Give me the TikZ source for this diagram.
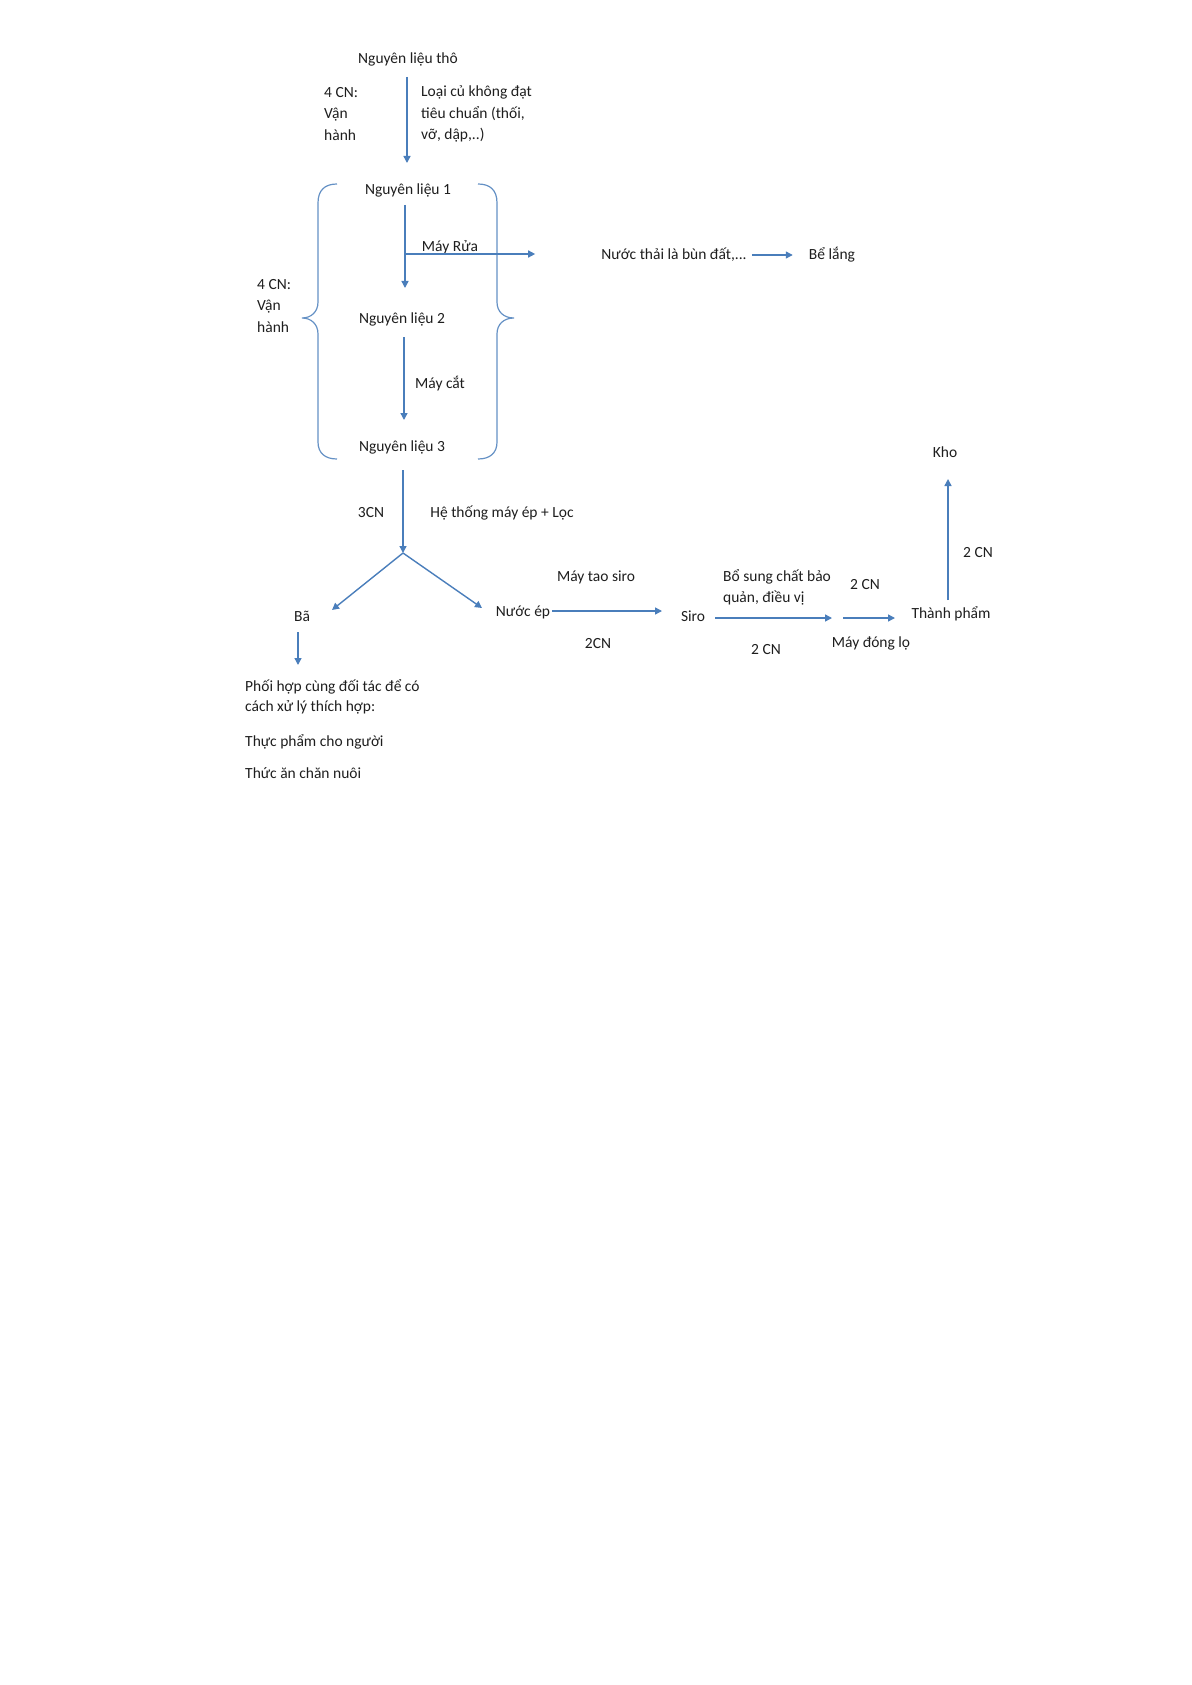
\documentclass[tikz,border=0pt]{standalone}
\usepackage{fontspec}
\setmainfont{Carlito}
\usetikzlibrary{arrows.meta,calc}
\definecolor{arr}{HTML}{4A7EBB}
\definecolor{txt}{HTML}{1E1E1E}
\begin{document}
\begin{tikzpicture}[x=1pt,y=-1pt,
  lbl/.style={inner sep=0pt, text=txt, font=\fontsize{15.5}{21.5}\selectfont},
  flow/.style={draw=arr, line width=1.4pt, -{Triangle[width=7pt,length=7pt]}},
  bracestyle/.style={draw=arr!85, line width=1.2pt}]
\useasboundingbox (0,0) rectangle (1191,1685);
\fill[white] (0,0) rectangle (1191,1685);

% nodes
\node[lbl] (raw) at (408,59) {Nguyên liệu thô};
\node[lbl,align=left,anchor=west] (op1) at (324,114) {4 CN:\\Vận\\hành};
\node[lbl,align=left,anchor=west] (rej) at (421,114) {Loại củ không đạt\\tiêu chuẩn (thối,\\vỡ, dập,..)};
\node[lbl] (nl1) at (408,190) {Nguyên liệu 1};
\node[lbl] (nl2) at (402,319) {Nguyên liệu 2};
\node[lbl] (nl3) at (402,447) {Nguyên liệu 3};
\node[lbl,align=left,anchor=west] (op2) at (257,306) {4 CN:\\Vận\\hành};
\node[lbl] (wash) at (450,247) {Máy Rửa};
\node[lbl] (cut) at (440,384) {Máy cắt};
\node[lbl] (waste) at (674,255) {Nước thải là bùn đất,...};
\node[lbl] (settle) at (832,255) {Bể lắng};
\node[lbl] (cn3) at (371,513) {3CN};
\node[lbl] (press) at (502,513) {Hệ thống máy ép + Lọc};
\node[lbl] (ba) at (302,616) {Bã};
\node[lbl] (juice) at (523,612) {Nước ép};
\node[lbl] (siromach) at (596,577) {Máy tao siro};
\node[lbl] (cn2a) at (598,644) {2CN};
\node[lbl] (siro) at (693,616) {Siro};
\node[lbl,align=left,anchor=west] (additive) at (723,587.5) {Bổ sung chất bảo\\quản, điều vị};
\node[lbl] (cn2b) at (865,585) {2 CN};
\node[lbl] (cn2c) at (766,650) {2 CN};
\node[lbl] (bottle) at (871,643) {Máy đóng lọ};
\node[lbl] (product) at (951,614) {Thành phẩm};
\node[lbl] (kho) at (945,452) {Kho};
\node[lbl] (cn2d) at (978,553) {2 CN};
\node[lbl,align=left,anchor=west,font=\fontsize{15.5}{20}\selectfont] (partner) at (245,697) {Phối hợp cùng đối tác để có\\cách xử lý thích hợp:};
\node[lbl,anchor=west] (food) at (245,742) {Thực phẩm cho người};
\node[lbl,anchor=west] (feed) at (245,773) {Thức ăn chăn nuôi};

% braces
\draw[bracestyle] (337,184) .. controls (325,184) and (318,190) .. (318,203) -- (318,302)
  .. controls (318,312) and (311,318) .. (302,318)
  .. controls (311,318) and (318,324) .. (318,334) -- (318,442)
  .. controls (318,453) and (325,459) .. (337,459);
\draw[bracestyle] (478,184) .. controls (490,184) and (497,190) .. (497,203) -- (497,302)
  .. controls (497,312) and (504,318) .. (514,318)
  .. controls (504,318) and (497,324) .. (497,334) -- (497,442)
  .. controls (497,453) and (490,459) .. (478,459);

% connectors
\draw[flow] ($(raw.center)+(-1,18)$) -- ($(nl1.center)+(-1,-27)$);
\draw[flow] ($(nl1.center)+(-3,15)$) -- ($(nl2.center)+(3,-31)$);
\coordinate (washpt) at ($(nl1.center)+(-3,64)$);
\draw[flow] (washpt) -- ($(waste.west)+(-66,-1)$);
\draw[flow] ($(waste.east)+(5,0)$) -- ($(settle.west)+(-16,0)$);
\draw[flow] ($(nl2.center)+(2,18)$) -- ($(nl3.center)+(2,-27)$);
\coordinate (split) at ($(nl3.center)+(1,106)$);
\draw[flow] ($(nl3.center)+(1,23)$) -- (split);
\draw[flow] (split) -- ($(ba.center)+(30,-6)$);
\draw[flow] (split) -- ($(juice.center)+(-41,-4)$);
\draw[flow] ($(ba.center)+(-4,16)$) -- ($(ba.center)+(-4,49)$);
\draw[flow] ($(juice.center)+(29,-1)$) -- ($(siro.center)+(-31,-5)$);
\coordinate (addend) at ($(siro.center)+(139,2)$);
\draw[flow] ($(siro.center)+(22,2)$) -- (addend);
\coordinate (bottlestart) at ($(product.center)+(-108,4)$);
\draw[flow] (bottlestart) -- ($(product.center)+(-56,4)$);
\draw[flow] ($(product.center)+(-3,-14)$) -- ($(kho.center)+(3,27)$);
\end{tikzpicture}
\end{document}
